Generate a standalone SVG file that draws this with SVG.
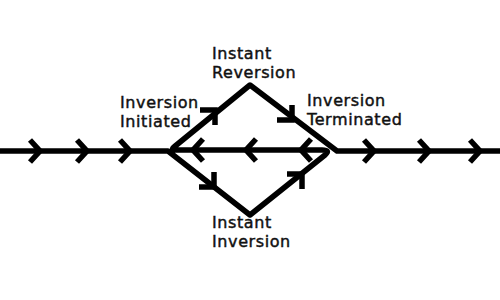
<svg xmlns="http://www.w3.org/2000/svg" width="500" height="300" viewBox="0 0 500 300">
<defs>
<style>
.ln{fill:none;stroke:#000;stroke-width:5.5;stroke-linejoin:round;stroke-linecap:butt}
.ch{fill:none;stroke:#000;stroke-width:5.5;stroke-linejoin:miter;stroke-linecap:butt}
.lbl{font-family:"DejaVu Sans","Verdana",sans-serif;font-size:16px;letter-spacing:0.6px;fill:#111;stroke:#111;stroke-width:0.45}
</style>
<path id="cr" class="ch" d="M-10,-11 L0,0 L-10,11"/>
<path id="cl" class="ch" d="M10,-11 L0,0 L10,11"/>
<path id="cur" class="ch" d="M-15,0 L0,0 L0,15"/>
<path id="cdr" class="ch" d="M0,-15 L0,0 L-15,0"/>
</defs>
<rect width="500" height="300" fill="#fff"/>
<g id="connectors">
<path class="ln" d="M0,151 L168,151 L250,215 L325,155 Q331,150 322,150 L178,150 Q170,150 174,147 L250,85 L337,151 L500,151"/>
<use href="#cr" x="40" y="151"/>
<use href="#cr" x="87" y="151"/>
<use href="#cr" x="130" y="151"/>
<use href="#cr" x="374" y="151"/>
<use href="#cr" x="429" y="151"/>
<use href="#cr" x="480" y="151"/>
<use href="#cl" x="193" y="150"/>
<use href="#cl" x="246" y="150"/>
<use href="#cl" x="301" y="150"/>
<use href="#cur" x="215" y="110"/>
<use href="#cdr" x="292" y="120"/>
<use href="#cdr" x="214" y="187"/>
<use href="#cur" x="302" y="174"/>
</g>
<g id="instant-reversion"><text class="lbl" x="212" y="59">Instant</text><text class="lbl" x="212" y="78">Reversion</text></g>
<g id="inversion-initiated"><text class="lbl" x="120" y="108">Inversion</text><text class="lbl" x="120" y="127">Initiated</text></g>
<g id="inversion-terminated"><text class="lbl" x="307" y="106">Inversion</text><text class="lbl" x="307" y="125">Terminated</text></g>
<g id="instant-inversion"><text class="lbl" x="212" y="228">Instant</text><text class="lbl" x="212" y="247">Inversion</text></g>
</svg>
